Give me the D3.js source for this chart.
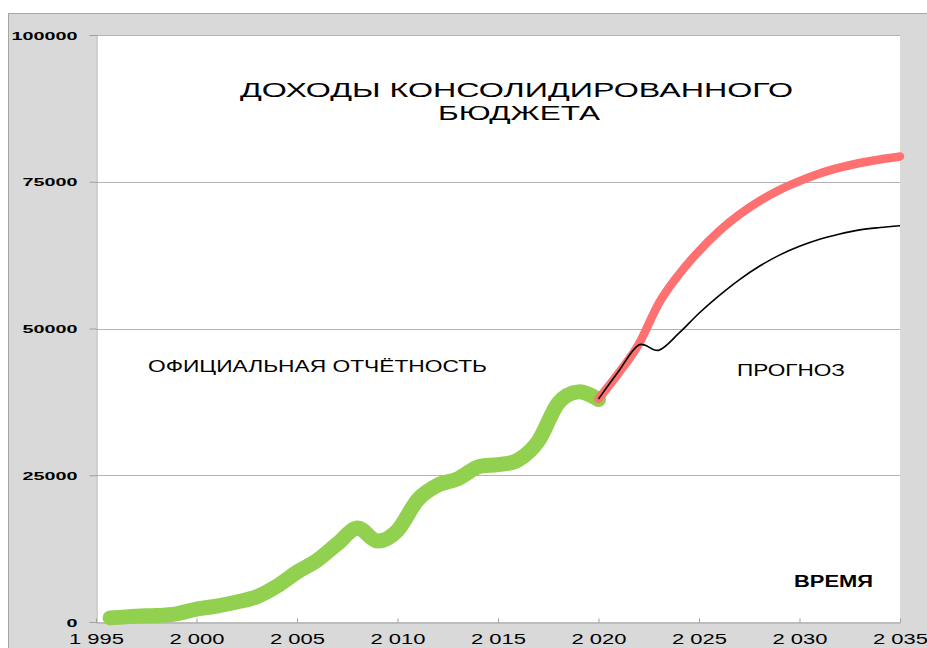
<!DOCTYPE html>
<html>
<head>
<meta charset="utf-8">
<script src="https://cdn.jsdelivr.net/npm/d3@7"></script>
<style>
  body { margin: 0; background: #fff; }
  svg { display: block; font-family: "Liberation Sans", Arial, sans-serif; }
</style>
</head>
<body>
<svg id="chart"></svg>
<script>
// official figures (green)
const factYears = [1995.7, 1997, 1998, 1999, 2000, 2001, 2002, 2003, 2004, 2005, 2006, 2007, 2008,
  2009, 2010, 2011, 2012, 2013, 2014, 2015, 2016, 2017, 2018, 2019, 2020]
const factValues = [700, 1000, 1100, 1400, 2200, 2700, 3400, 4300, 6100, 8500, 10500, 13300, 16000,
  13800, 15600, 20800, 23300, 24400, 26400, 26800, 27600, 30800, 37300, 39200, 37900]

// forecast (red and black)
const forecastYears = [2020, 2021, 2022, 2023, 2024, 2025, 2026, 2027, 2028, 2029, 2030, 2031, 2032, 2033, 2034, 2035]
const forecastHigh = [38000, 42400, 47300, 54300, 59200, 63200, 66600, 69400, 71700, 73600, 75100, 76400, 77400, 78200, 78800, 79300]
const forecastLow = [38000, 42700, 47200, 46300, 49200, 52600, 55600, 58300, 60600, 62500, 64000, 65200, 66100, 66800, 67200, 67500]

const yTicks = [0, 25000, 50000, 75000, 100000]
const xTicks = [1995, 2000, 2005, 2010, 2015, 2020, 2025, 2030, 2035]

const width = 927, height = 648
const plotLeft = 96, plotRight = 900, plotTop = 35, plotBottom = 622

const svg = d3.select("#chart")
  .attr("width", width)
  .attr("height", height)

// grey chart area
svg.append("rect")
  .attr("x", 8.5).attr("y", 13.5)
  .attr("width", width).attr("height", height)
  .attr("fill", "#d9d9d9")
  .attr("stroke", "#a6a6a6")

svg.append("rect")
  .attr("x", plotLeft).attr("y", plotTop)
  .attr("width", plotRight - plotLeft).attr("height", plotBottom - plotTop)
  .attr("fill", "#fff")

const x = d3.scaleLinear().domain([1995, 2035]).range([plotLeft, plotRight])
const y = d3.scaleLinear().domain([0, 100000]).range([plotBottom, plotTop])

// gridlines
svg.append("g")
  .selectAll("line")
  .data(yTicks.filter(d => d > 0))
  .enter().append("line")
  .attr("x1", plotLeft).attr("x2", plotRight)
  .attr("y1", d => Math.round(y(d)) + 0.5)
  .attr("y2", d => Math.round(y(d)) + 0.5)
  .attr("stroke", "#b4b4b4")

const ru = d3.formatLocale({decimal: ",", thousands: " ", grouping: [3], currency: ["", ""]})

const yAxis = svg.append("g")
  .attr("transform", `translate(${plotLeft + 0.5},0)`)
  .call(d3.axisLeft(y).tickValues(yTicks).tickSize(7).tickFormat(d => String(d)))
yAxis.select(".domain").attr("stroke", "#a0a0a0")
yAxis.selectAll(".tick line").attr("stroke", "#a0a0a0")
yAxis.selectAll(".tick text")
  .attr("x", -19)
  .attr("dy", "0.36em")
  .attr("font-size", 11.5)
  .attr("font-weight", "bold")
  .attr("font-family", "Liberation Sans, Arial, sans-serif")
  .attr("fill", "#000")
  .attr("textLength", d => String(d).length * 11)
  .attr("lengthAdjust", "spacingAndGlyphs")

const xAxis = svg.append("g")
  .attr("transform", `translate(0,${plotBottom + 0.5})`)
  .call(d3.axisBottom(x).tickValues(xTicks).tickSizeInner(-4).tickSizeOuter(0).tickFormat(ru.format(",")))
xAxis.select(".domain").attr("stroke", "#a0a0a0")
xAxis.selectAll(".tick line").attr("stroke", "#a0a0a0")
xAxis.selectAll(".tick text")
  .attr("y", 21.5)
  .attr("dy", 0)
  .attr("font-size", 15)
  .attr("font-family", "Liberation Sans, Arial, sans-serif")
  .attr("fill", "#000")
  .attr("textLength", 55)
  .attr("lengthAdjust", "spacingAndGlyphs")

const line = d3.line()
  .x(d => x(d[0]))
  .y(d => y(d[1]))
  .curve(d3.curveCatmullRom.alpha(0))

svg.append("path")
  .datum(d3.zip(factYears, factValues))
  .attr("d", line)
  .attr("fill", "none")
  .attr("stroke", "#92d050")
  .attr("stroke-width", 15)
  .attr("stroke-linecap", "round")
  .attr("stroke-linejoin", "round")

svg.append("path")
  .datum(d3.zip(forecastYears, forecastHigh))
  .attr("d", line)
  .attr("fill", "none")
  .attr("stroke", "#ff7070")
  .attr("stroke-width", 8.5)
  .attr("stroke-linecap", "round")

svg.append("path")
  .datum(d3.zip(forecastYears, forecastLow))
  .attr("d", line)
  .attr("fill", "none")
  .attr("stroke", "#000")
  .attr("stroke-width", 1.6)

// labels
const labels = [
  {text: "ДОХОДЫ КОНСОЛИДИРОВАННОГО", x: 240, y: 97, len: 553, size: 20, weight: "normal"},
  {text: "БЮДЖЕТА", x: 438, y: 120, len: 162, size: 20, weight: "normal"},
  {text: "ОФИЦИАЛЬНАЯ ОТЧЁТНОСТЬ", x: 148, y: 372, len: 339, size: 16, weight: "normal"},
  {text: "ПРОГНОЗ", x: 737, y: 376, len: 108, size: 16, weight: "normal"},
  {text: "ВРЕМЯ", x: 794, y: 587, len: 79, size: 16, weight: "bold"}
]

svg.append("g")
  .selectAll("text")
  .data(labels)
  .enter().append("text")
  .attr("x", d => d.x)
  .attr("y", d => d.y)
  .attr("font-size", d => d.size)
  .attr("font-weight", d => d.weight)
  .attr("textLength", d => d.len)
  .attr("lengthAdjust", "spacingAndGlyphs")
  .attr("fill", "#000")
  .text(d => d.text)
</script>
</body>
</html>
